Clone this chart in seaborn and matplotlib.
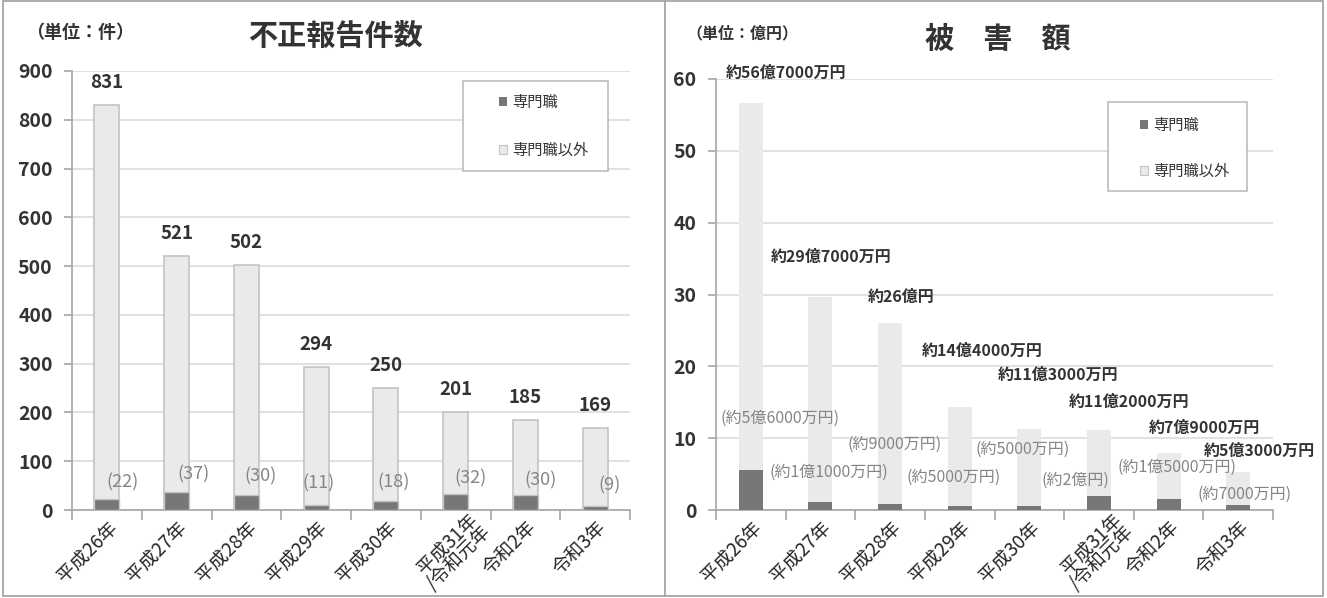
import numpy as np
import pandas as pd
import matplotlib
matplotlib.use("Agg")
import matplotlib.pyplot as plt
import matplotlib.transforms as mtransforms
import seaborn as sns
from matplotlib.patches import Patch, Rectangle
from matplotlib.lines import Line2D

# ---------------- data ----------------
years = ["平成26年", "平成27年", "平成28年", "平成29年", "平成30年",
         "平成31年\n/令和元年", "令和2年", "令和3年"]

cases_total = [831, 521, 502, 294, 250, 201, 185, 169]
cases_pro = [22, 37, 30, 11, 18, 32, 30, 9]

damage_total = [56.7, 29.7, 26.0, 14.4, 11.3, 11.2, 7.9, 5.3]
damage_pro = [5.6, 1.1, 0.9, 0.5, 0.5, 2.0, 1.5, 0.7]
damage_total_labels = ["約56億7000万円", "約29億7000万円", "約26億円", "約14億4000万円",
                       "約11億3000万円", "約11億2000万円", "約7億9000万円", "約5億3000万円"]
damage_pro_labels = ["(約5億6000万円)", "(約1億1000万円)", "(約9000万円)", "(約5000万円)",
                     "(約5000万円)", "(約2億円)", "(約1億5000万円)", "(約7000万円)"]

legend_labels = ["専門職", "専門職以外"]

# ---------------- layout (label placement) ----------------
cases_pro_pos = [(0.23, 57), (1.24, 73), (2.2, 68), (3.04, 55), (4.11, 57),
                 (5.22, 65), (6.22, 60), (7.2, 50)]
damage_total_pos = [(0.50, 60.8), (1.15, 35.3), (2.16, 29.7), (3.32, 22.2),
                    (4.42, 18.8), (5.43, 15.1), (6.51, 11.4), (7.30, 8.2)]
damage_pro_pos = [(0.42, 12.8), (1.12, 5.3), (2.06, 9.1), (2.92, 4.6),
                  (3.90, 8.5), (4.66, 4.2), (6.12, 5.9), (7.09, 2.2)]

# ---------------- style ----------------
sns.set_style("white")
plt.rcParams["font.family"] = ["Noto Sans CJK JP", "DejaVu Sans"]

DARK = "#777777"
LIGHT = "#e9eaec"
TEXT = "#333333"
SUB = "#858585"
AXC = "#a6a6a6"
GRID = "#d9d9d9"

W, H = 1327, 598
fig = plt.figure(figsize=(W / 100, H / 100), dpi=100)


def ax_rect(x0, x1, ytop, ybot):
    return [x0 / W, 1 - ybot / H, (x1 - x0) / W, (ybot - ytop) / H]


ax1 = fig.add_axes(ax_rect(72, 630, 71, 510))
ax2 = fig.add_axes(ax_rect(716, 1273, 79, 510))

df1 = pd.DataFrame({"year": years, "total": cases_total, "pro": cases_pro})
df2 = pd.DataFrame({"year": years, "total": damage_total, "pro": damage_pro})

sns.barplot(data=df1, x="year", y="total", color=LIGHT, saturation=1, width=0.36,
            edgecolor="#c4c4c4", linewidth=1.2, ax=ax1, zorder=2)
sns.barplot(data=df1, x="year", y="pro", color=DARK, saturation=1, width=0.36,
            edgecolor="#c4c4c4", linewidth=1.0, ax=ax1, zorder=3)

sns.barplot(data=df2, x="year", y="total", color=LIGHT, saturation=1, width=0.345,
            linewidth=0, ax=ax2, zorder=2)
sns.barplot(data=df2, x="year", y="pro", color=DARK, saturation=1, width=0.345,
            linewidth=0, ax=ax2, zorder=3)


def style_axes(ax, ymax, step):
    ax.set_xlim(-0.5, len(years) - 0.5)
    ax.set_ylim(0, ymax)
    ax.set_yticks(np.arange(0, ymax + step / 2, step))
    ax.yaxis.grid(True, color=GRID, linewidth=1.1, zorder=0)
    ax.set_axisbelow(True)
    ax.set_xlabel("")
    ax.set_ylabel("")
    for s in ["top", "right"]:
        ax.spines[s].set_visible(False)
    for s in ["left", "bottom"]:
        ax.spines[s].set_color(AXC)
        ax.spines[s].set_linewidth(1.2)
    ax.tick_params(axis="y", direction="out", length=6, width=1.2, color=AXC,
                   labelsize=14, labelcolor=TEXT, pad=8, left=True)
    ax.tick_params(axis="x", which="major", length=0, pad=5, labelsize=13.5,
                   labelcolor="#262626")
    ax.set_xticks(np.arange(-0.5, len(years), 1.0), minor=True)
    ax.tick_params(axis="x", which="minor", direction="out", length=7, width=1.2,
                   color=AXC, bottom=True)
    for lab in ax.get_yticklabels():
        lab.set_fontweight("bold")
    ax.set_xticks(range(len(years)))
    ax.set_xticklabels(years, rotation=45, ha="right", va="top",
                       rotation_mode="anchor", linespacing=0.8)
    # the two-line label sits a little further right / higher, as in the source
    lab = ax.get_xticklabels()[5]
    lab.set_transform(lab.get_transform() +
                      mtransforms.ScaledTranslation(12 / 100, 8 / 100,
                                                    fig.dpi_scale_trans))


style_axes(ax1, 900, 100)
style_axes(ax2, 60, 10)

# ---- value labels ----
for i, v in enumerate(cases_total):
    ax1.annotate(str(v), (i, v), xytext=(0, 16), textcoords="offset points",
                 ha="center", va="center", fontsize=13.5, fontweight="bold",
                 color=TEXT, zorder=5)
for (x, y), v in zip(cases_pro_pos, cases_pro):
    ax1.text(x, y, f"({v})", ha="center", va="center", fontsize=13,
             color=SUB, zorder=5)

for (x, y), s in zip(damage_total_pos, damage_total_labels):
    ax2.text(x, y, s, ha="center", va="center", fontsize=11.5, fontweight="bold",
             color=TEXT, zorder=5)
for (x, y), s in zip(damage_pro_pos, damage_pro_labels):
    ax2.text(x, y, s, ha="center", va="center", fontsize=11.5, color=SUB, zorder=5)

# ---- legends ----
handles = [Patch(facecolor=DARK, edgecolor="none"),
           Patch(facecolor=LIGHT, edgecolor="#c4c4c4", linewidth=0.8)]


def add_legend(ax, box, hx, ymid, spacing, fs=11):
    x0, x1, yt, yb = box
    ax.add_patch(Rectangle((x0, yb), x1 - x0, yt - yb, transform=ax.transAxes,
                           facecolor="white", edgecolor="#bcbcbc", linewidth=1.2,
                           zorder=6))
    leg = ax.legend(handles, legend_labels, loc="center left",
                    bbox_to_anchor=(hx, ymid), frameon=False, borderpad=0,
                    borderaxespad=0, handlelength=0.55, handleheight=0.55,
                    handletextpad=0.3, labelspacing=spacing, fontsize=fs,
                    labelcolor=TEXT)
    leg.set_zorder(7)


add_legend(ax1, ((463 - 72) / 558, (608 - 72) / 558, (510 - 81) / 439, (510 - 171) / 439),
           (499 - 72) / 558, (510 - 126.5) / 439, 2.0)
add_legend(ax2, ((1108 - 716) / 557, (1247 - 716) / 557, (510 - 103) / 430, (510 - 192) / 430),
           (1140 - 716) / 557, (510 - 149.5) / 430, 1.9)

# ---- titles and unit labels ----
fig.text(335 / W, 1 - 36 / H, "不正報告件数", ha="center", va="center",
         fontsize=21, fontweight="bold", color=TEXT)
fig.text(998 / W, 1 - 39 / H, "被　害　額", ha="center", va="center",
         fontsize=21, fontweight="bold", color=TEXT)
fig.text(80 / W, 1 - 32 / H, "（単位：件）", ha="center", va="center",
         fontsize=13, fontweight="bold", color=TEXT)
fig.text(742 / W, 1 - 33 / H, "（単位：億円）", ha="center", va="center",
         fontsize=11.5, fontweight="bold", color=TEXT)

# ---- panel frames ----
fig.add_artist(Rectangle((3 / W, 1 - 596 / H), (1323 - 3) / W, (596 - 1) / H,
                         transform=fig.transFigure, fill=False, edgecolor=AXC,
                         linewidth=1.3))
fig.add_artist(Line2D([665 / W, 665 / W], [1 - 596 / H, 1 - 1 / H],
                      transform=fig.transFigure, color=AXC, linewidth=1.3))

fig.savefig("out.png", dpi=100)
